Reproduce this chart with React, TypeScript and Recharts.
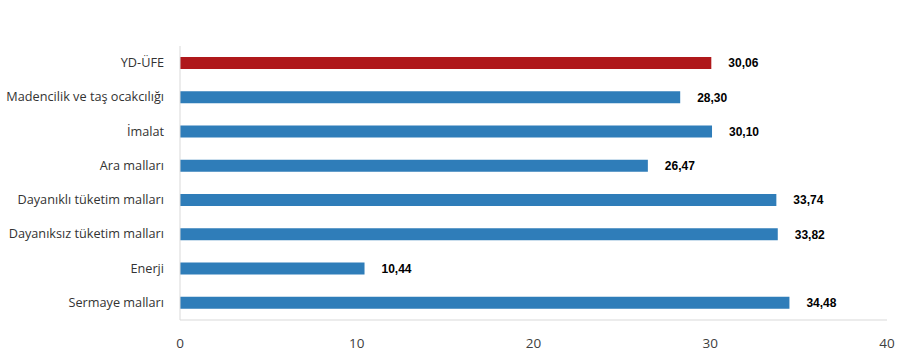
import { Bar, BarChart, Cell, LabelList, XAxis, YAxis } from "recharts";

const categories = [
  "YD-ÜFE",
  "Madencilik ve taş ocakcılığı",
  "İmalat",
  "Ara malları",
  "Dayanıklı tüketim malları",
  "Dayanıksız tüketim malları",
  "Enerji",
  "Sermaye malları",
];
const values = [30.06, 28.3, 30.1, 26.47, 33.74, 33.82, 10.44, 34.48];
const xTicks = [0, 10, 20, 30, 40];

const data = categories.map((name, i) => ({ name, value: values[i] }));

const RED = "#AF181B";
const BLUE = "#2F7DB9";

// single-line category tick (default tick wraps long names)
function CategoryTick({ x, y, payload }: any) {
  return (
    <text
      x={x - 8}
      y={y}
      dy={4}
      textAnchor="end"
      fill="#333333"
      fontSize={12.7}
      fontFamily="Open Sans"
    >
      {payload.value}
    </text>
  );
}

export default function App() {
  return (
    <div style={{ position: "absolute", left: 0, top: 0, background: "#fff" }}>
      <BarChart
        width={898}
        height={352}
        data={data}
        layout="vertical"
        margin={{ top: 46, right: 11, left: 0, bottom: 0 }}
      >
        <XAxis
          type="number"
          domain={[0, 40]}
          ticks={xTicks}
          height={32}
          tickLine={false}
          axisLine={{ stroke: "#D9D9D9" }}
          tickMargin={12}
          tick={{ fill: "#404040", fontSize: 13.5, fontFamily: "Open Sans" }}
        />
        <YAxis
          type="category"
          dataKey="name"
          width={180}
          tickLine={false}
          axisLine={{ stroke: "#D9D9D9" }}
          tick={<CategoryTick />}
        />
        <Bar dataKey="value" barSize={12} isAnimationActive={false}>
          {data.map((d, i) => (
            <Cell key={d.name} fill={i === 0 ? RED : BLUE} />
          ))}
          <LabelList
            dataKey="value"
            position="right"
            offset={17}
            fill="#000"
            fontSize={12}
            fontWeight="bold"
            fontFamily="Liberation Sans"
            formatter={(v: number) => v.toFixed(2).replace(".", ",")}
          />
        </Bar>
      </BarChart>
    </div>
  );
}
